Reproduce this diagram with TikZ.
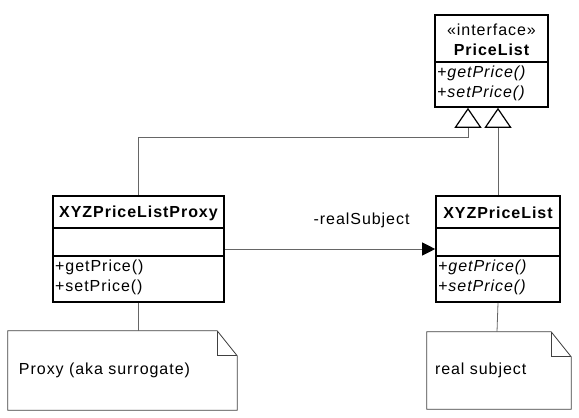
\documentclass[tikz,border=0pt]{standalone}
\usepackage{fontspec}
\setmainfont{Liberation Sans}[LetterSpace=6]
\usetikzlibrary{positioning,calc,arrows.meta}
\newcommand\umlsize{\fontsize{16}{19}\selectfont}
\tikzset{
  classbox/.style  = {draw=black, line width=1.6pt, fill=white, inner sep=0pt},
  compline/.style  = {draw=black, line width=1.6pt},
  title/.style     = {font=\umlsize\bfseries, inner sep=0pt},
  stereo/.style    = {font=\umlsize, inner sep=0pt},
  oper/.style      = {font=\umlsize, anchor=west, inner sep=0pt},
  opabs/.style     = {font=\umlsize\itshape, anchor=west, inner sep=0pt},
  notebox/.style   = {font=\umlsize, draw=none, inner ysep=0pt, align=left},
  noteline/.style  = {draw=black!75, line width=0.8pt},
  inherit/.style   = {draw=black!60, line width=0.9pt,
                      -{Triangle[open, length=20pt, width=27pt, line width=1.2pt, color=black, fill=white]}},
  assoc/.style     = {draw=black!60, line width=0.9pt, -{Triangle[length=13pt, width=13pt, color=black]}},
  anchorline/.style= {draw=black!60, line width=0.8pt},
  lbl/.style       = {font=\umlsize, inner sep=0pt},
}

\begin{document}
\begin{tikzpicture}[x=1pt,y=-1pt]
  \useasboundingbox (0,0) rectangle (579,418);

  % interface PriceList
  \node[classbox, minimum width=113pt, minimum height=92pt] (plist) at (491.5,61) {};
  \draw[compline] (plist.west |- 0,62) -- (plist.east |- 0,62);
  \node[stereo] (plistst) at (491.5,30) {«interface»};
  \node[title] (plistname) at (491.5,50) {PriceList};
  \node[opabs] (plistget) at (437,73) {+getPrice()};
  \node[opabs] (plistset) at (437,93) {+setPrice()};

  % proxy class
  \node[classbox, minimum width=171pt, minimum height=106pt] (proxy) at (138.5,249) {};
  \draw[compline] (proxy.west |- 0,228) -- (proxy.east |- 0,228);
  \draw[compline] (proxy.west |- 0,256) -- (proxy.east |- 0,256);
  \node[title] (proxyname) at (138.5,213) {XYZPriceListProxy};
  \node[oper] (proxyget) at (55,267) {+getPrice()};
  \node[oper] (proxyset) at (55,287) {+setPrice()};

  % real subject class
  \node[classbox, minimum width=124pt, minimum height=106pt] (xyz) at (498,249) {};
  \draw[compline] (xyz.west |- 0,228) -- (xyz.east |- 0,228);
  \draw[compline] (xyz.west |- 0,256) -- (xyz.east |- 0,256);
  \node[title] (xyzname) at (498,213) {XYZPriceList};
  \node[opabs] (xyzget) at (438,267) {+getPrice()};
  \node[opabs] (xyzset) at (438,287) {+setPrice()};

  % generalizations
  \coordinate (lbend) at (468,137);
  \draw[inherit] (proxy.north) |- (lbend) -- (lbend |- plist.south);
  \draw[inherit] (xyz.north) -- (xyz.north |- plist.south);

  % association
  \coordinate (assocy) at (0,249);
  \draw[assoc] (proxy.east |- assocy) -- (xyz.west |- assocy)
    node[lbl, pos=0.65, above=21pt] (assoclbl) {-realSubject};

  % notes
  \node[notebox, minimum width=229pt, minimum height=79pt, text width=207pt, inner xsep=11pt]
    (pnote) at (122.5,370.5) {Proxy (aka surrogate)};
  \node[notebox, minimum width=144pt, minimum height=77pt, text width=128pt, inner xsep=8pt]
    (rnote) at (499,370.5) {real subject};
  \foreach \n in {pnote,rnote}{
    \draw[noteline] (\n.north west) -- ([xshift=-20pt]\n.north east)
      -- ([yshift=-25pt]\n.north east) -- (\n.south east) -- (\n.south west) -- cycle;
    \draw[noteline] ([xshift=-20pt]\n.north east) |- ([yshift=-25pt]\n.north east);
  }
  \draw[anchorline] (proxy.south) -- (proxy.south |- pnote.north);
  \draw[anchorline] (xyz.south) -- ([xshift=-1pt]xyz.south |- rnote.north);
\end{tikzpicture}
\end{document}
